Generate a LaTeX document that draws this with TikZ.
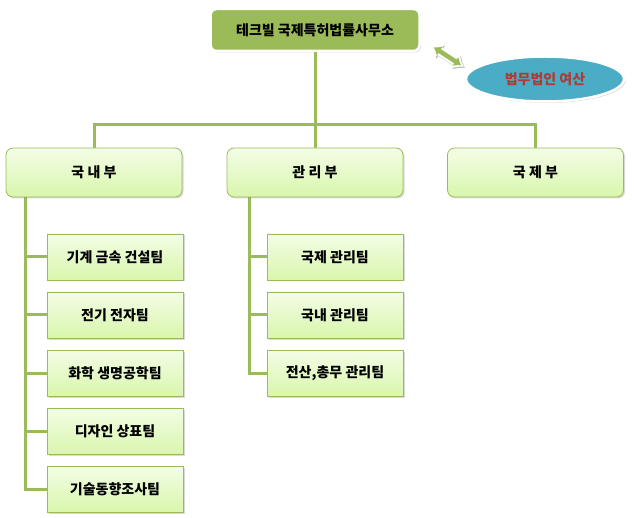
\documentclass[tikz,border=0pt]{standalone}
\usepackage{fontspec}
\setmainfont{Noto Sans CJK KR}
\usetikzlibrary{shapes.geometric,shadows,arrows.meta,backgrounds}
\definecolor{olive}{HTML}{9BBB59}
\definecolor{teal}{HTML}{4BACC6}
\definecolor{brick}{HTML}{B03A35}
\definecolor{paletop}{HTML}{F3FDE6}
\definecolor{palebot}{HTML}{D9F6AC}
\begin{document}
\begin{tikzpicture}[x=1pt,y=-1pt,
  font=\fontsize{14}{16}\selectfont\bfseries,
  conn/.style={draw=olive,line width=3pt},
  boxshadow/.style={drop shadow={opacity=0.3,shadow xshift=1.5pt,shadow yshift=-1.5pt}},
  headbox/.style={draw=white,line width=2.5pt,fill=olive,rounded corners=6pt,
    minimum width=209pt,minimum height=42pt,boxshadow},
  deptbox/.style={draw=olive,line width=0.8pt,top color=paletop,bottom color=palebot,
    rounded corners=7pt,minimum width=176pt,minimum height=49pt,boxshadow},
  teambox/.style={draw=olive,line width=0.8pt,top color=paletop,bottom color=palebot,
    minimum width=136pt,minimum height=46pt,boxshadow}]
\useasboundingbox (0,0) rectangle (634,518);

\node[headbox] (hq) at (315,30) {테크빌 국제특허법률사무소};
\node[ellipse,draw=white,line width=2.5pt,fill=teal,minimum width=158pt,minimum height=45pt,
  inner sep=0pt,boxshadow,text=brick] (firm) at (545,79) {법무법인 여산};
\coordinate (hqend) at ([shift={(13,-5)}]hq.south east);
\coordinate (firmend) at ([shift={(-27,3)}]firm.north west);
\draw[black!25,line width=9pt,shorten <=-3pt,shorten >=-3pt,transform canvas={shift={(1.2pt,-1.2pt)}},
  {Latex[length=10pt,width=17pt]}-{Latex[length=10pt,width=17pt]}] (hqend) -- (firmend);
\draw[white,line width=9pt,shorten <=-3pt,shorten >=-3pt,
  {Latex[length=10pt,width=17pt]}-{Latex[length=10pt,width=17pt]}] (hqend) -- (firmend);
\draw[olive,line width=4.5pt,{Latex[length=7pt,width=11pt]}-{Latex[length=7pt,width=11pt]}]
  (hqend) -- (firmend);

\node[deptbox] (dom) at (94,172.5) {국 내 부};
\node[deptbox] (mgmt) at (315,172.5) {관 리 부};
\node[deptbox] (intl) at (535.5,172.5) {국 제 부};

\node[teambox] (t1) at (115,257) {기계 금속 건설팀};
\node[teambox] (t2) at (115,315) {전기 전자팀};
\node[teambox] (t3) at (115,373) {화학 생명공학팀};
\node[teambox] (t4) at (115,431) {디자인 상표팀};
\node[teambox] (t5) at (115,489) {기술동향조사팀};

\node[teambox] (m1) at (335,257) {국제 관리팀};
\node[teambox] (m2) at (335,315) {국내 관리팀};
\node[teambox] (m3) at (335,373) {전산,총무 관리팀};

\coordinate (bus) at (315,125);
\begin{scope}[on background layer]
\draw[conn] (hq.south) -- (bus);
\draw[conn] (dom.north) |- (bus) -| (intl.north);
\draw[conn] (bus) -- (mgmt.north);
\foreach \t in {t1,t2,t3,t4,t5}
  \draw[conn] ([xshift=20pt]dom.south west) |- (\t.west);
\foreach \m in {m1,m2,m3}
  \draw[conn] ([xshift=23pt]mgmt.south west) |- (\m.west);
\end{scope}
\end{tikzpicture}
\end{document}
